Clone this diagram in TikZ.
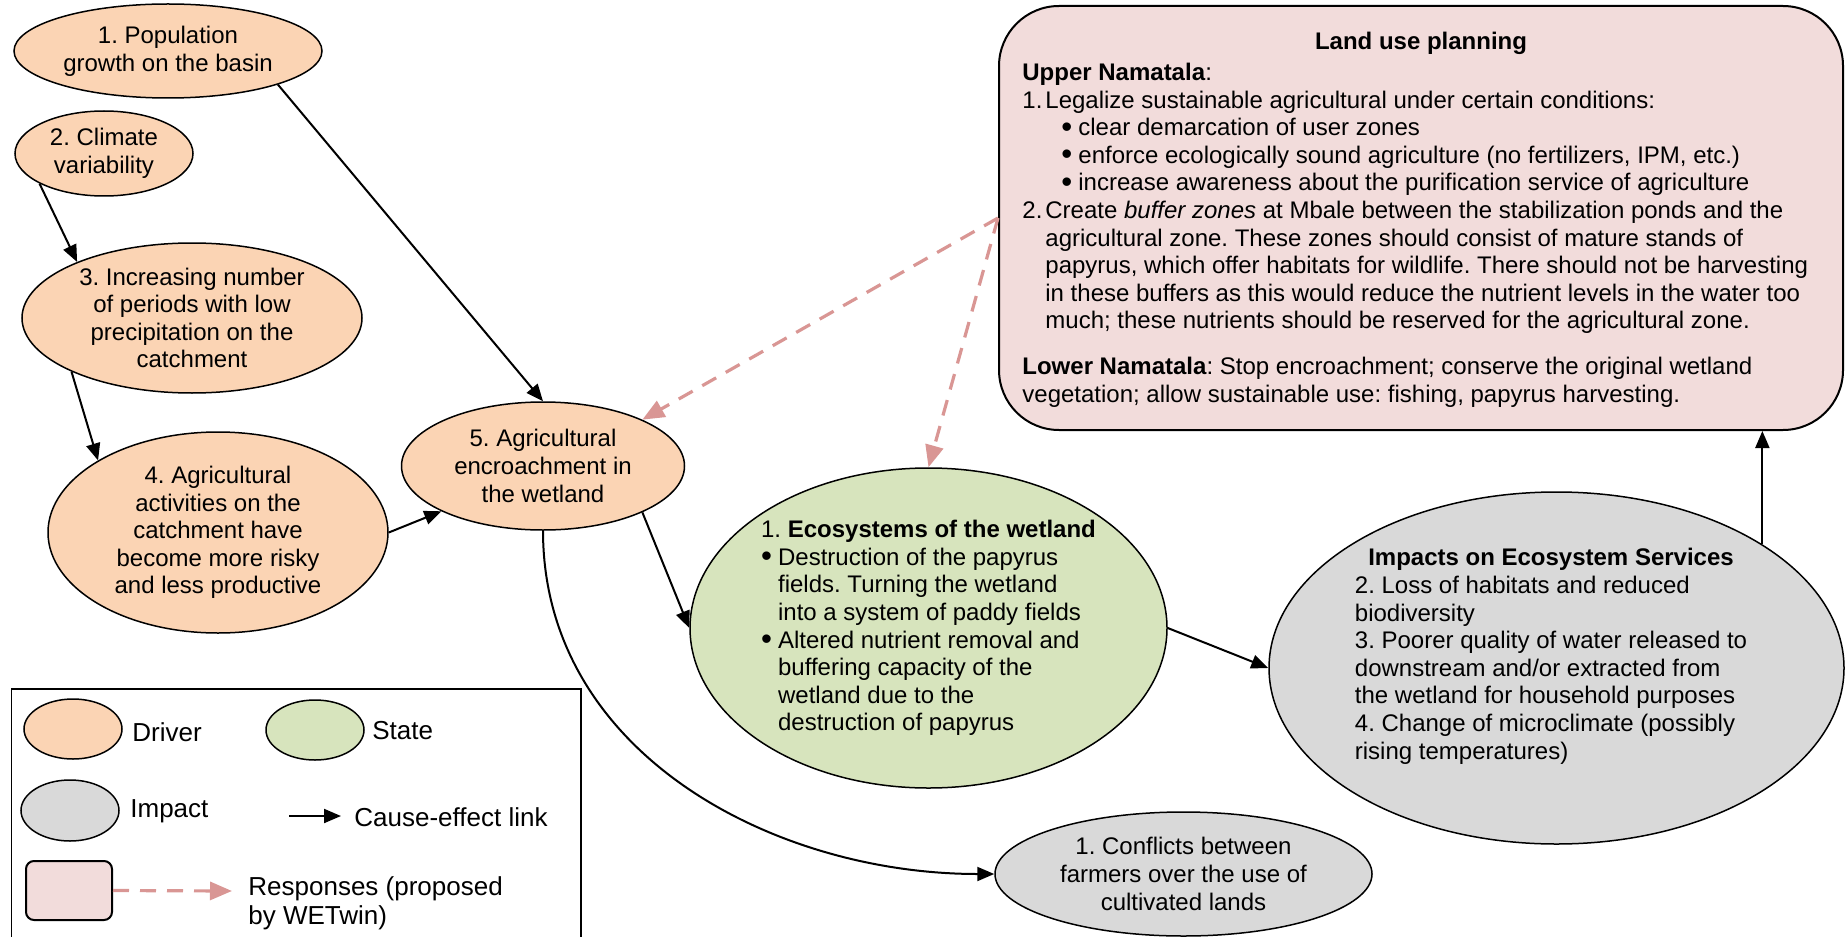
\documentclass[tikz,border=0pt]{standalone}
\usepackage{fontspec}
\setmainfont{Liberation Sans}
\usepackage{tikz}
\usetikzlibrary{arrows.meta,positioning,shapes.geometric}

\definecolor{drvfill}{HTML}{FBD4B4}
\definecolor{stafill}{HTML}{D7E4BD}
\definecolor{impfill}{HTML}{D9D9D9}
\definecolor{resfill}{HTML}{F2DCDB}
\definecolor{resline}{HTML}{D99694}

\newcommand{\dotitem}{\makebox[8.5pt][l]{\raisebox{-0.8pt}{\scalebox{1.3}{\textbullet}}}}
\frenchspacing

\begin{document}
\begin{tikzpicture}[x=0.5pt,y=-0.5pt,
    every node/.style={font=\fontsize{12}{13.8}\selectfont,inner sep=0pt},
    blob/.style={ellipse,draw,line width=0.75pt,align=center},
    drivernode/.style={blob,fill=drvfill},
    statenode/.style={blob,fill=stafill},
    impactnode/.style={blob,fill=impfill},
    respbox/.style={draw,line width=1pt,fill=resfill,rounded corners=30pt},
    cause/.style={-{Triangle[length=8.5pt,width=7pt]},line width=1pt},
    respond/.style={-{Triangle[length=11pt,width=9pt]},draw=resline,line width=1.6pt,dash pattern=on 8pt off 5.5pt},
    legtxt/.style={anchor=west,align=left,font=\fontsize{13}{14.5}\selectfont}]
    \useasboundingbox (0,0) rectangle (1845,936);

    % Drivers
    \node[drivernode,minimum width=154pt,minimum height=47pt] (e1) at (168,51) {1. Population\\growth on the basin};
    \node[drivernode,minimum width=89pt,minimum height=42.5pt] (e2) at (104,153.5) {2. Climate\\variability};
    \node[drivernode,minimum width=170pt,minimum height=75pt] (e3) at (192,318) {3. Increasing number\\of periods with low\\precipitation on the\\catchment};
    \node[drivernode,minimum width=170pt,minimum height=100.5pt] (e4) at (218,532.5) {4. Agricultural\\activities on the\\catchment have\\become more risky\\and less productive};
    \node[drivernode,minimum width=141.5pt,minimum height=64pt] (e5) at (543,466) {5. Agricultural\\encroachment in\\the wetland};

    % State
    \node[statenode,minimum width=238.5pt,minimum height=160pt] (s1) at (928.5,628) {};
    \node[align=left] (s1-txt) at (s1.center) {1. \textbf{Ecosystems of the wetland}\\
        \dotitem Destruction of the papyrus\\
        \hspace*{8.5pt}fields. Turning the wetland\\
        \hspace*{8.5pt}into a system of paddy fields\\
        \dotitem Altered nutrient removal and\\
        \hspace*{8.5pt}buffering capacity of the\\
        \hspace*{8.5pt}wetland due to the\\
        \hspace*{8.5pt}destruction of papyrus};

    % Impacts
    \node[impactnode,minimum width=287.5pt,minimum height=176pt] (i1) at (1556.5,668) {};
    \node (i1-txt) at ([xshift=-2.75pt,yshift=5.5pt]i1.center) {\begin{tabular}{@{}l@{}}
        \multicolumn{1}{@{}c@{}}{\textbf{Impacts on Ecosystem Services}}\\
        2. Loss of habitats and reduced\\
        biodiversity\\
        3. Poorer quality of water released to\\
        downstream and/or extracted from\\
        the wetland for household purposes\\
        4. Change of microclimate (possibly\\
        rising temperatures)
        \end{tabular}};
    \node[impactnode,minimum width=188.5pt,minimum height=62pt] (c1) at (1183.5,874) {1. Conflicts between\\farmers over the use of\\cultivated lands};

    % Response
    \node[respbox,minimum width=422pt,minimum height=212pt] (lup) at (1421,218) {};
    \node (lup-title) at ([yshift=-19pt]lup.north) {\textbf{Land use planning}};
    \node[align=left,anchor=west] (lup-txt) at ([xshift=12pt,yshift=-8.5pt]lup.west) {\textbf{Upper Namatala}:\\
        \makebox[11.5pt][l]{1.}Legalize sustainable agricultural under certain conditions:\\
        \hspace*{19.5pt}\dotitem clear demarcation of user zones\\
        \hspace*{19.5pt}\dotitem enforce ecologically sound agriculture (no fertilizers, IPM, etc.)\\
        \hspace*{19.5pt}\dotitem increase awareness about the purification service of agriculture\\
        \makebox[11.5pt][l]{2.}Create \textit{buffer zones} at Mbale between the stabilization ponds and the\\
        \hspace*{11.5pt}agricultural zone. These zones should consist of mature stands of\\
        \hspace*{11.5pt}papyrus, which offer habitats for wildlife. There should not be harvesting\\
        \hspace*{11.5pt}in these buffers as this would reduce the nutrient levels in the water too\\
        \hspace*{11.5pt}much; these nutrients should be reserved for the agricultural zone.\\[9pt]
        \textbf{Lower Namatala}: Stop encroachment; conserve the original wetland\\
        vegetation; allow sustainable use: fishing, papyrus harvesting.};

    % Cause-effect links
    \draw[cause] (e1.-17) -- (e5.north);
    \draw[cause] (e2.205) -- (e3.154);
    \draw[cause] (e3.204) -- (e4.149);
    \draw[cause] (e4.east) -- (e5.204);
    \draw[cause] (e5.-25) -- (s1.west);
    \draw[cause] (e5.south) to[out=-90,in=180] (c1.west);
    \draw[cause] (s1.east) -- (i1.west);
    \draw[cause] (i1.31) -- (i1.31 |- lup.south);

    % Proposed responses
    \draw[respond] (lup.west) -- (e5.25);
    \draw[respond] (lup.west) -- (s1.north);

    % Legend
    \draw[line width=0.9pt] (11.5,689) rectangle (581,945);
    \node[drivernode,minimum width=49pt,minimum height=30pt] (l-drv) at (73,729) {};
    \node[legtxt] (l-drv-txt) at (132,732) {Driver};
    \node[statenode,minimum width=49pt,minimum height=30pt] (l-sta) at (315,730) {};
    \node[legtxt] (l-sta-txt) at (372,731) {State};
    \node[impactnode,minimum width=49pt,minimum height=30.5pt] (l-imp) at (70,810.5) {};
    \node[legtxt] (l-imp-txt) at (130,811) {Impact};
    \coordinate (l-a) at (289,816);
    \coordinate (l-b) at (341,816);
    \draw[cause] (l-a) -- (l-b);
    \node[legtxt] (l-cause-txt) at (354,817) {Cause-effect link};
    \node[respbox,rounded corners=4pt,minimum width=43pt,minimum height=29.5pt] (l-res) at (69,890.5) {};
    \coordinate (l-c) at (232,891);
    \draw[respond] (l-res.east) -- (l-c);
    \node[legtxt] (l-res-txt) at (248,903.5) {Responses (proposed\\by WETwin)};
\end{tikzpicture}
\end{document}
